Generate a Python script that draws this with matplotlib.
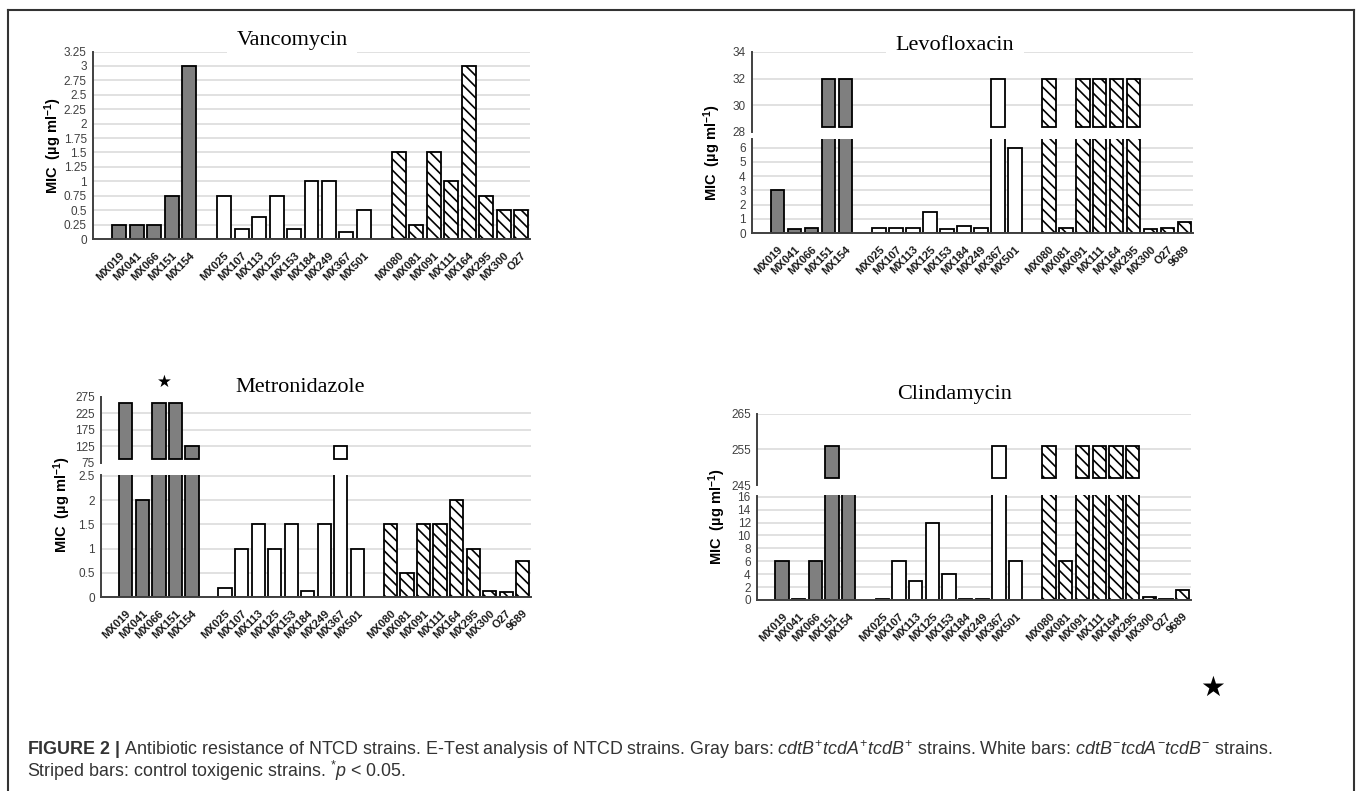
import matplotlib
matplotlib.use('Agg')
import matplotlib.pyplot as plt
from matplotlib.lines import Line2D

plt.rcParams['font.family'] = ['Liberation Sans', 'DejaVu Sans']
plt.rcParams['mathtext.fontset'] = 'custom'
plt.rcParams['mathtext.rm'] = 'Liberation Sans'
plt.rcParams['mathtext.it'] = 'Liberation Sans:italic'
plt.rcParams['mathtext.bf'] = 'Liberation Sans:bold'
plt.rcParams['hatch.linewidth'] = 1.2
plt.rcParams['hatch.color'] = 'black'

# ---------------- data ----------------
group1 = ['MX019', 'MX041', 'MX066', 'MX151', 'MX154']
group2 = ['MX025', 'MX107', 'MX113', 'MX125', 'MX153', 'MX184', 'MX249', 'MX367', 'MX501']
group3_vanco = ['MX080', 'MX081', 'MX091', 'MX111', 'MX164', 'MX295', 'MX300', 'O27']
group3 = ['MX080', 'MX081', 'MX091', 'MX111', 'MX164', 'MX295', 'MX300', 'O27', '9689']

vanco_g1 = [0.25, 0.25, 0.25, 0.75, 3.0]
vanco_g2 = [0.75, 0.18, 0.38, 0.75, 0.18, 1.0, 1.0, 0.125, 0.5]
vanco_g3 = [1.5, 0.25, 1.5, 1.0, 3.0, 0.75, 0.5, 0.5]

levo_g1 = [3.0, 0.25, 0.38, 32, 32]
levo_g2 = [0.38, 0.38, 0.38, 1.5, 0.25, 0.5, 0.38, 32, 6.0]
levo_g3 = [32, 0.38, 32, 32, 32, 32, 0.3, 0.38, 0.75]

metro_g1 = [256, 2.0, 256, 256, 128]
metro_g2 = [0.19, 1.0, 1.5, 1.0, 1.5, 0.125, 1.5, 128, 1.0]
metro_g3 = [1.5, 0.5, 1.5, 1.5, 2.0, 1.0, 0.125, 0.094, 0.75]

clinda_g1 = [6, 0.1, 6, 256, 24]
clinda_g2 = [0.19, 6, 3, 12, 4, 0.1, 0.1, 256, 6]
clinda_g3 = [256, 6, 256, 256, 256, 256, 0.5, 0.1, 1.5]

vanco_ticks = [0, 0.25, 0.5, 0.75, 1, 1.25, 1.5, 1.75, 2, 2.25, 2.5, 2.75, 3, 3.25]
levo_ticks_low = [0, 1, 2, 3, 4, 5, 6]
levo_ticks_high = [28, 30, 32, 34]
metro_ticks_low = [0, 0.5, 1, 1.5, 2, 2.5]
metro_ticks_high = [75, 125, 175, 225, 275]
clinda_ticks_low = [0, 2, 4, 6, 8, 10, 12, 14, 16]
clinda_ticks_high = [245, 255, 265]

caption1 = (r"$\mathbf{FIGURE\ 2\ |}$ Antibiotic resistance of NTCD strains. E-Test analysis of NTCD "
            r"strains. Gray bars: $\mathit{cdtB}^{+}\mathit{tcdA}^{+}\mathit{tcdB}^{+}$ strains. "
            r"White bars: $\mathit{cdtB}^{-}\mathit{tcdA}^{-}\mathit{tcdB}^{-}$ strains.")
caption2 = r"Striped bars: control toxigenic strains. $^{*}\mathit{p}$ < 0.05."
ylabel_text = r"MIC  (µg ml$^{\mathbf{-1}}$)"

# ---------------- layout ----------------
W, H = 1358, 791
fig = plt.figure(figsize=(W / 100, H / 100), dpi=100)

GRID = '#d9d9d9'
SPINE = '#404040'
STYLES = [dict(color='#7f7f7f', hatch=None),
          dict(color='white', hatch=None),
          dict(color='white', hatch='\\\\\\')]


def rect(l, t, r, b):
    return [l / W, 1 - b / H, (r - l) / W, (b - t) / H]


def slot_positions(n1, n2, n3):
    p1 = list(range(1, 1 + n1))
    p2 = list(range(2 + n1, 2 + n1 + n2))
    p3 = list(range(3 + n1 + n2, 3 + n1 + n2 + n3))
    return [p1, p2, p3], 3 + n1 + n2 + n3


def style_axis(ax, nslots, ylim, ticks, grid_ticks, bottom_spine):
    ax.set_xlim(-0.5, nslots - 0.5)
    ax.set_ylim(*ylim)
    ax.set_yticks(ticks, [f"{t:g}" for t in ticks])
    ax.tick_params(axis='y', length=0, pad=4.5, labelsize=8.5, labelcolor='#404040')
    for t in grid_ticks:
        ax.axhline(t, color=GRID, lw=1.1, zorder=0.5)
    for s in ['top', 'right']:
        ax.spines[s].set_visible(False)
    ax.spines['left'].set_color(SPINE)
    ax.spines['left'].set_linewidth(1.4)
    if bottom_spine:
        ax.spines['bottom'].set_color(SPINE)
        ax.spines['bottom'].set_linewidth(1.4)
        ax.spines['bottom'].set_zorder(3)
    else:
        ax.spines['bottom'].set_visible(False)
        ax.set_xticks([])
    ax.set_facecolor('none')


def draw_bars(ax, positions, groups, base=0.0, threshold=None):
    for pos, vals, st in zip(positions, groups, STYLES):
        if threshold is not None:
            sel = [(p, v) for p, v in zip(pos, vals) if v > threshold]
            if not sel:
                continue
            pp = [p for p, _ in sel]
            hh = [v - base for _, v in sel]
        else:
            pp, hh = pos, vals
        ax.bar(pp, hh, bottom=base, width=0.8, color=st['color'], edgecolor='black',
               linewidth=1.3, hatch=st['hatch'], zorder=2)


def set_xlabels(ax, positions, labels):
    flat_p = [p for grp in positions for p in grp]
    flat_l = [l for grp in labels for l in grp]
    ax.set_xticks(flat_p, flat_l, rotation=45, ha='right', rotation_mode='anchor',
                  fontweight='bold', fontsize=8, color='#1a1a1a')
    ax.tick_params(axis='x', length=0, pad=8)


def panel(groups, labels, low_rect, low_ylim, low_ticks, low_grid,
          high_rect=None, high_ylim=None, high_ticks=None, high_grid=None, high_base=None):
    positions, nslots = slot_positions(*[len(g) for g in groups])
    axb = fig.add_axes(rect(*low_rect))
    style_axis(axb, nslots, low_ylim, low_ticks, low_grid, True)
    draw_bars(axb, positions, groups)
    set_xlabels(axb, positions, labels)
    if high_rect is not None:
        axt = fig.add_axes(rect(*high_rect))
        style_axis(axt, nslots, high_ylim, high_ticks, high_grid, False)
        draw_bars(axt, positions, groups, base=high_base, threshold=high_ylim[0])
    return axb


# Vancomycin
panel([vanco_g1, vanco_g2, vanco_g3], [group1, group2, group3_vanco],
      (93, 51.5, 530, 239), (0, 3.25), vanco_ticks, vanco_ticks)

# Levofloxacin
panel([levo_g1, levo_g2, levo_g3], [group1, group2, group3],
      (752, 139, 1193, 233), (0, 6.6), levo_ticks_low, levo_ticks_low,
      (752, 52, 1193, 132), (28, 34), levo_ticks_high, levo_ticks_high[1:], 28.35)

# Metronidazole
panel([metro_g1, metro_g2, metro_g3], [group1, group2, group3],
      (101, 475, 531, 597), (0, 2.52), metro_ticks_low, metro_ticks_low,
      (101, 397, 531, 463), (75, 275), metro_ticks_high, metro_ticks_high[1:-1], 88)

# Clindamycin
panel([clinda_g1, clinda_g2, clinda_g3], [group1, group2, group3],
      (757, 495.5, 1191, 600), (0, 16.2), clinda_ticks_low, clinda_ticks_low,
      (757, 414, 1191, 485), (245, 265), clinda_ticks_high, clinda_ticks_high[1:], 247)

# titles
for txt, x, y in [('Vancomycin', 292, 40), ('Levofloxacin', 955, 45),
                  ('Metronidazole', 300, 387), ('Clindamycin', 955, 395)]:
    fig.text(x / W, 1 - y / H, txt, family='Liberation Serif', fontsize=16,
             ha='center', va='center', zorder=10,
             bbox=dict(facecolor='white', edgecolor='none', pad=7))

# y labels
for x, y in [(53, 146), (712, 153), (62, 505), (717, 517)]:
    fig.text(x / W, 1 - y / H, ylabel_text, rotation=90, fontweight='bold',
             fontsize=10.5, ha='center', va='center')

# significance stars
fig.text(164 / W, 1 - 382 / H, '★', family='DejaVu Sans', fontsize=12,
         ha='center', va='center')
fig.text(1213 / W, 1 - 688 / H, '★', family='DejaVu Sans', fontsize=20,
         ha='center', va='center')

# caption
fig.text(27 / W, 1 - 750 / H, caption1, fontsize=12.9, color='#333333',
         ha='left', va='center')
fig.text(27 / W, 1 - 771 / H, caption2, fontsize=12.9, color='#333333',
         ha='left', va='center')

# frame
for xs, ys in [([8, 8], [10, 791]), ([8, 1354], [10, 10]), ([1354, 1354], [10, 791])]:
    fig.add_artist(Line2D([x / W for x in xs], [1 - y / H for y in ys],
                          transform=fig.transFigure, color='#333333', lw=1.5))

fig.savefig('out.png', dpi=100)
